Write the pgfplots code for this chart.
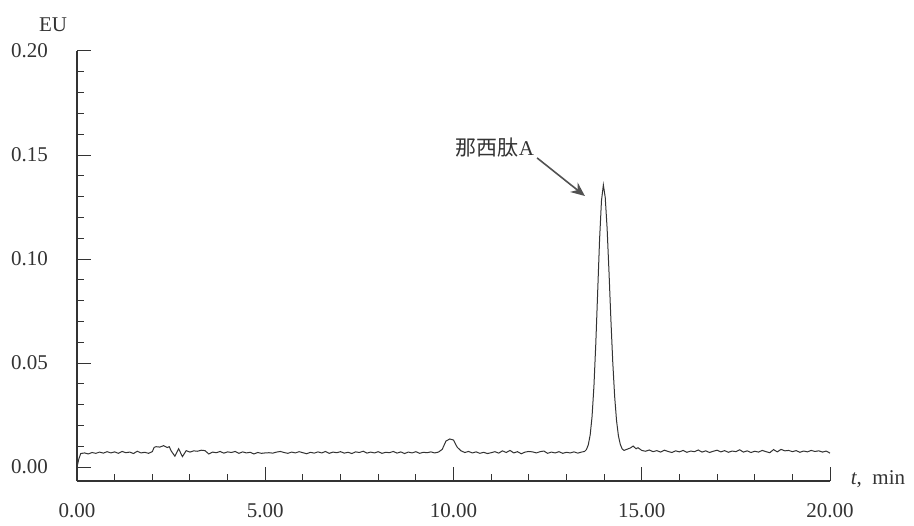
\documentclass[border=0pt]{standalone}
\usepackage{fontspec}
\setmainfont{Liberation Serif}
\newfontfamily\cjk{Noto Sans CJK SC}
\usepackage{pgfplots}
\pgfplotsset{compat=1.18}
\usetikzlibrary{arrows.meta}
\definecolor{ink}{HTML}{333333}
\begin{document}
\begin{tikzpicture}
\useasboundingbox (-38.5pt,-22pt) rectangle (418.5pt,240.5pt);
\begin{axis}[
  at={(0,0)}, anchor=south west,
  scale only axis, width=376.5pt, height=215pt,
  xmin=0, xmax=20, ymin=-0.0067, ymax=0.20,
  axis x line=bottom, axis y line=left,
  axis line style={-, draw=ink, line width=0.6pt},
  tick style={draw=ink, line width=0.5pt},
  tick align=inside,
  xtick={0,5,10,15,20}, minor xtick={1,2,3,4,6,7,8,9,11,12,13,14,16,17,18,19},
  ytick={0,0.05,0.10,0.15,0.20},
  minor ytick={0.01,0.02,0.03,0.04,0.06,0.07,0.08,0.09,0.11,0.12,0.13,0.14,0.16,0.17,0.18,0.19},
  major tick length=7pt, minor tick length=3.3pt,
  /pgf/number format/assume math mode=true,
  xticklabel style={/pgf/number format/fixed, /pgf/number format/precision=2, /pgf/number format/fixed zerofill, yshift=-7.5pt, text=ink},
  yticklabel style={/pgf/number format/fixed, /pgf/number format/precision=2, /pgf/number format/fixed zerofill, xshift=-11pt, text=ink},
  scaled y ticks=false,
  tick label style={font=\fontsize{10.5}{12}\selectfont},
  clip=false,
]
\addplot[ink, line width=0.5pt] coordinates {
(0.00,0.0000) (0.05,0.0040) (0.10,0.0065) (0.2,0.0068) (0.3,0.0063) (0.4,0.0070) (0.5,0.0066)
(0.6,0.0072) (0.7,0.0067) (0.8,0.0074) (0.9,0.0068) (1.0,0.0073) (1.1,0.0066) (1.2,0.0075)
(1.3,0.0069) (1.4,0.0072) (1.5,0.0065) (1.6,0.0076) (1.7,0.0068) (1.8,0.0071) (1.9,0.0066)
(2.0,0.0074) (2.05,0.0095) (2.1,0.0098) (2.2,0.0096) (2.3,0.0103) (2.4,0.0094) (2.45,0.0098)
(2.5,0.0078) (2.6,0.0052) (2.7,0.0088) (2.8,0.0050) (2.9,0.0079) (3.0,0.0072) (3.1,0.0078)
(3.2,0.0076) (3.3,0.0081) (3.4,0.0079) (3.5,0.0063) (3.6,0.0072) (3.7,0.0069) (3.8,0.0075)
(3.9,0.0067) (4.0,0.0073) (4.1,0.0070) (4.2,0.0075) (4.3,0.0066) (4.4,0.0073) (4.5,0.0068)
(4.6,0.0071) (4.7,0.0063) (4.8,0.0070) (4.9,0.0066) (5.0,0.0068) (5.1,0.0069) (5.2,0.0067)
(5.3,0.0072) (5.4,0.0075) (5.5,0.0070) (5.6,0.0066) (5.7,0.0072) (5.8,0.0068) (5.9,0.0074)
(6.0,0.0069) (6.1,0.0064) (6.2,0.0071) (6.3,0.0067) (6.4,0.0073) (6.5,0.0068) (6.6,0.0075)
(6.7,0.0066) (6.8,0.0072) (6.9,0.0069) (7.0,0.0074) (7.1,0.0067) (7.2,0.0071) (7.3,0.0065)
(7.4,0.0073) (7.5,0.0070) (7.6,0.0076) (7.7,0.0067) (7.8,0.0072) (7.9,0.0068) (8.0,0.0074)
(8.1,0.0066) (8.2,0.0071) (8.3,0.0069) (8.4,0.0075) (8.5,0.0067) (8.6,0.0073) (8.7,0.0065)
(8.8,0.0072) (8.9,0.0068) (9.0,0.0074) (9.1,0.0066) (9.2,0.0071) (9.3,0.0069) (9.4,0.0073)
(9.5,0.0068) (9.6,0.0072) (9.7,0.0085) (9.8,0.0125) (9.9,0.0135) (10.0,0.0130) (10.05,0.0112)
(10.1,0.0095) (10.2,0.0078) (10.3,0.0070) (10.4,0.0075) (10.5,0.0068) (10.6,0.0073) (10.7,0.0066)
(10.8,0.0071) (10.9,0.0065) (11.0,0.0069) (11.1,0.0074) (11.2,0.0067) (11.3,0.0078) (11.4,0.0070)
(11.5,0.0080) (11.6,0.0068) (11.7,0.0074) (11.8,0.0064) (11.9,0.0072) (12.0,0.0075) (12.1,0.0073)
(12.2,0.0068) (12.3,0.0074) (12.4,0.0077) (12.5,0.0066) (12.6,0.0072) (12.7,0.0068) (12.8,0.0074)
(12.9,0.0066) (13.0,0.0071) (13.1,0.0068) (13.2,0.0073) (13.3,0.0067) (13.4,0.0072) (13.48,0.0075)
(13.53,0.0084) (13.58,0.0107) (13.63,0.0154) (13.68,0.0243) (13.73,0.0389) (13.78,0.0596)
(13.83,0.0846) (13.88,0.1095) (13.93,0.1280) (13.98,0.1356) (14.03,0.1296) (14.08,0.1147)
(14.13,0.0938) (14.18,0.0710) (14.23,0.0504) (14.28,0.0340) (14.33,0.0224) (14.38,0.0150)
(14.43,0.0109) (14.48,0.0087) (14.53,0.0080) (14.6,0.0085) (14.7,0.0092) (14.77,0.0101)
(14.85,0.0088) (14.9,0.0093) (15.0,0.0080) (15.1,0.0076) (15.2,0.0082) (15.3,0.0074) (15.4,0.0079)
(15.5,0.0072) (15.6,0.0081) (15.7,0.0075) (15.8,0.0070) (15.9,0.0078) (16.0,0.0073) (16.1,0.0080)
(16.2,0.0071) (16.3,0.0077) (16.4,0.0074) (16.5,0.0082) (16.6,0.0072) (16.7,0.0078) (16.8,0.0070)
(16.9,0.0076) (17.0,0.0081) (17.1,0.0073) (17.2,0.0079) (17.3,0.0071) (17.4,0.0077) (17.5,0.0074)
(17.6,0.0083) (17.7,0.0072) (17.8,0.0078) (17.9,0.0070) (18.0,0.0076) (18.1,0.0072) (18.2,0.0080)
(18.3,0.0074) (18.4,0.0069) (18.5,0.0084) (18.6,0.0073) (18.7,0.0085) (18.8,0.0078) (18.9,0.0080)
(19.0,0.0074) (19.1,0.0079) (19.2,0.0071) (19.3,0.0077) (19.4,0.0073) (19.5,0.0080) (19.6,0.0075)
(19.7,0.0078) (19.8,0.0072) (19.9,0.0077) (20.0,0.0067)
};
\draw[-{Stealth[length=7pt,width=6pt]}, draw=ink!85, fill=ink!85, line width=0.8pt]
  (axis cs:12.22,0.1486) -- (axis cs:13.49,0.1303);
\node[text=ink, font=\fontsize{10.5}{12}\selectfont] at (axis cs:11.1,0.1535) {{\cjk 那西肽}A};
\end{axis}
\node[text=ink, font=\fontsize{10.5}{12}\selectfont] at (-12pt,228pt) {EU};
\node[text=ink, font=\fontsize{10.5}{12}\selectfont] at (400.5pt,1pt) {\textit{t}, \ min};
\end{tikzpicture}
\end{document}
